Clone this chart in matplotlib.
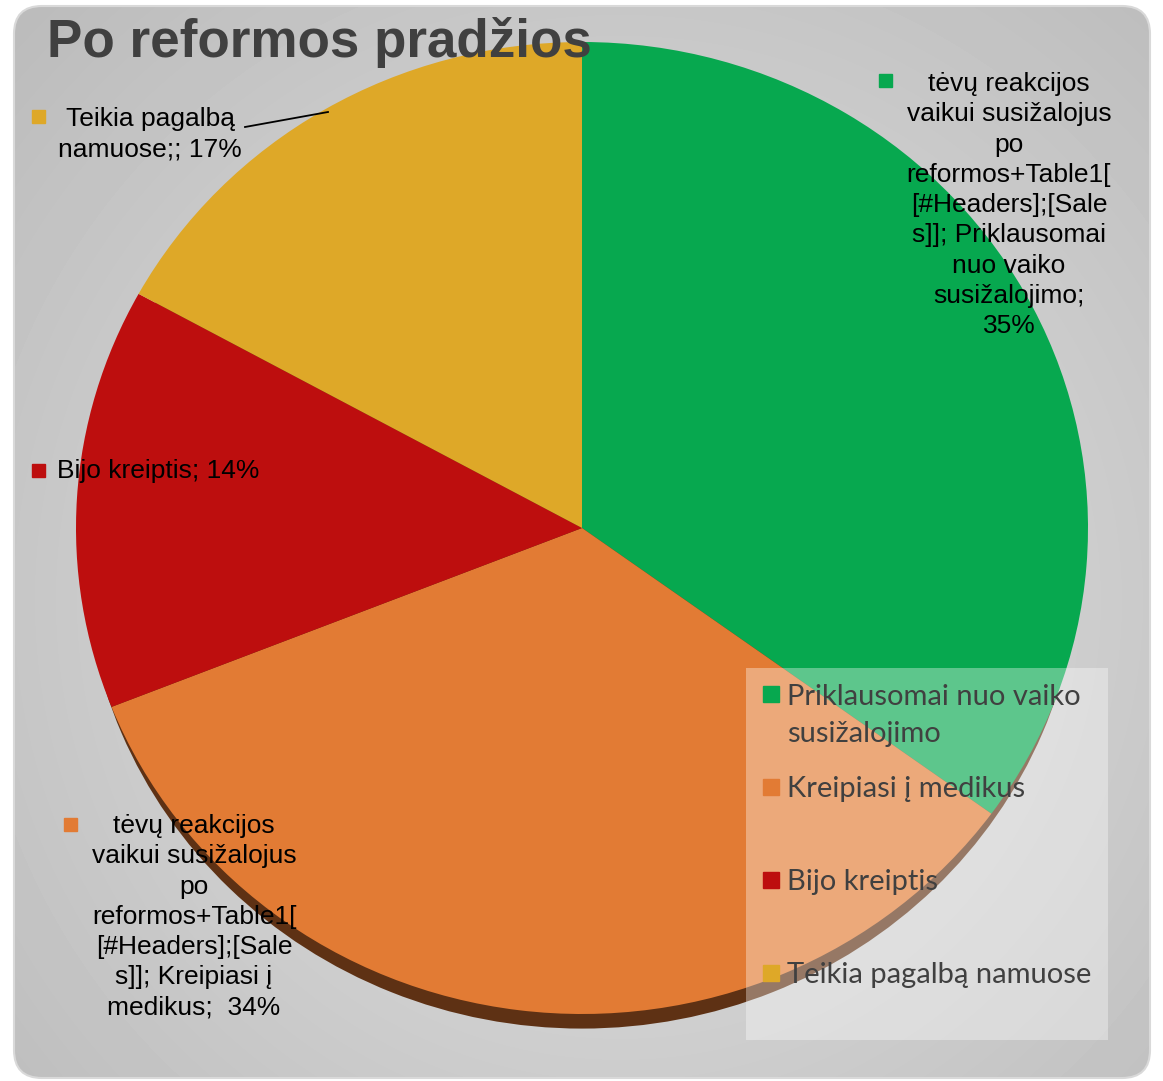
import numpy as np
import matplotlib.pyplot as plt
from matplotlib.patches import FancyBboxPatch, Rectangle

# data
categories = ['Priklausomai nuo vaiko susižalojimo', 'Kreipiasi į medikus',
              'Bijo kreiptis', 'Teikia pagalbą namuose']
legend_labels = ['Priklausomai nuo vaiko\nsusižalojimo', 'Kreipiasi į medikus',
                 'Bijo kreiptis', 'Teikia pagalbą namuose']
values = [35, 34, 14, 17]
colors = ['#07a84f', '#e27b34', '#bd0e0e', '#dea828']
title = 'Po reformos pradžios'

W, H = 1163, 1081
fig = plt.figure(figsize=(W / 100, H / 100), dpi=100)
fig.patch.set_facecolor('white')

# background axes in pixel coordinates
bg = fig.add_axes([0, 0, 1, 1])
bg.set_xlim(0, W)
bg.set_ylim(H, 0)
bg.axis('off')

yy, xx = np.mgrid[0:H, 0:W]
r = np.sqrt(((xx - 620) / 700.0) ** 2 + ((yy - 600) / 700.0) ** 2)
grad = 0.89 - 0.13 * r
box = FancyBboxPatch((14, 6), 1136, 1072, boxstyle='round,pad=0,rounding_size=28',
                     transform=bg.transData, facecolor='none', edgecolor='#d9d9d9', lw=1.5)
im = bg.imshow(grad, cmap='gray', vmin=0, vmax=1, extent=[0, W, H, 0], zorder=0)
im.set_clip_path(box)
bg.add_patch(box)

# pie axes (slightly elliptical like the original)
cx, cy, rx, ry = 582, 528, 506, 486
pax = fig.add_axes([(cx - rx) / W, 1 - (cy + ry) / H, 2 * rx / W, 2 * ry / H])
pax.axis('off')
pax.pie([1], colors=['#5e3114'], radius=0.985, center=(0, -0.045), startangle=90,
        wedgeprops=dict(linewidth=0))
wedges, _ = pax.pie(values, colors=colors, startangle=90, counterclock=False,
                    radius=1, wedgeprops=dict(linewidth=0))
pax.set_xlim(-1, 1)
pax.set_ylim(-1, 1)
pax.set_aspect('auto')

# overlay axes for text and legend
ov = fig.add_axes([0, 0, 1, 1])
ov.set_xlim(0, W)
ov.set_ylim(H, 0)
ov.axis('off')
ov.patch.set_alpha(0)

ov.text(47, 42, title, fontsize=38.2, fontweight='bold', color='#404040',
        family='Liberation Sans', va='center', ha='left')

lbl_font = dict(fontsize=19, family='Liberation Sans', color='black', linespacing=1.33)
series = 'tėvų reakcijos\nvaikui susižalojus\npo\nreformos+Table1[\n[#Headers];[Sale\ns]]; '
ov.text(1009, 72, series + 'Priklausomai\nnuo vaiko\nsusižalojimo;\n%d%%' % values[0],
        ha='center', va='top', **lbl_font)
ov.add_patch(Rectangle((879, 74), 13, 13, color=colors[0]))
ov.text(194, 814, series + 'Kreipiasi į\nmedikus;  %d%%' % values[1],
        ha='center', va='top', **lbl_font)
ov.add_patch(Rectangle((64, 818), 13, 13, color=colors[1]))
ov.text(57, 471, 'Bijo kreiptis; %d%%' % values[2], ha='left', va='center', **lbl_font)
ov.add_patch(Rectangle((32, 464), 13, 13, color=colors[2]))
ov.text(150, 107, 'Teikia pagalbą\nnamuose;; %d%%' % values[3],
        ha='center', va='top', **lbl_font)
ov.add_patch(Rectangle((32, 110), 13, 13, color=colors[3]))
ov.plot([245, 328], [127, 112], color='black', lw=1.3)

# legend
ov.add_patch(Rectangle((746, 668), 362, 372, facecolor='white', alpha=0.35, lw=0))
for i, (lab, col) in enumerate(zip(legend_labels, colors)):
    y = 694 + 93 * i
    ov.add_patch(Rectangle((763, y - 8), 16, 16, color=col))
    n = lab.count('\n')
    ov.text(787, y + 2 + 19.5 * n, lab, fontsize=21, family='Lato', color='#404040',
            ha='left', va='center', linespacing=1.5)

fig.savefig('out.png', dpi=100)
